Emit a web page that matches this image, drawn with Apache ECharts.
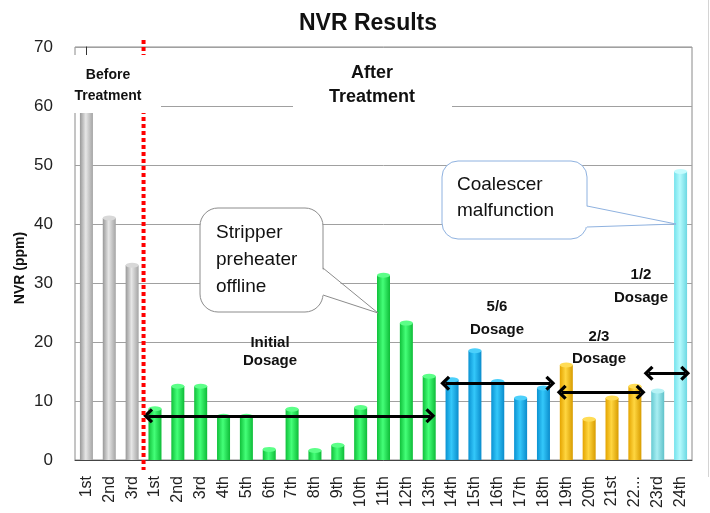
<!DOCTYPE html>
<html>
<head>
<meta charset="utf-8">
<script src="https://cdn.jsdelivr.net/npm/echarts@6/dist/echarts.min.js"></script>
<style>
html,body{margin:0;padding:0;background:#fff;}
#chart{width:710px;height:513px;}
</style>
</head>
<body>
<div id="chart"></div>
<script>
// ---- data ----
var categories = ['1st','2nd','3rd','1st','2nd','3rd','4th','5th','6th','7th','8th','9th','10th','11th','12th','13th','14th','15th','16th','17th','18th','19th','20th','21st','22...','23rd','24th'];
var values = [66, 41, 33, 8.7, 12.5, 12.5, 7.4, 7.4, 1.8, 8.6, 1.6, 2.5, 8.9, 31.3, 23.2, 14.2, 13.6, 18.5, 13.3, 10.5, 12.2, 16.1, 6.9, 10.5, 12.5, 11.7, 48.9];
var groups = ['before','before','before','initial','initial','initial','initial','initial','initial','initial','initial','initial','initial','initial','initial','initial','five6','five6','five6','five6','five6','two3','two3','two3','two3','half','half2'];
var yTicks = [0, 70, 10]; // min, max, interval
// double-headed arrows: [fromIndex, toIndex, value]
var arrowSpans = [[2.7, 15.05, 7.5], [15.7, 20.3, 13.0], [20.8, 24.25, 11.5], [24.6, 26.2, 14.7]];
var treatmentSplit = 2.5; // between "3rd" (before) and "1st" (after)

// ---- styles ----
function cyl(a, b, c) {
  return new echarts.graphic.LinearGradient(0, 0, 1, 0, [
    {offset: 0, color: a}, {offset: 0.45, color: b}, {offset: 1, color: c}
  ]);
}
var groupColors = {
  before: ['#989898', '#e6e6e6', '#a4a4a4'],
  initial: ['#10c03a', '#44ff78', '#0ebc38'],
  five6: ['#0a92d2', '#34c8fa', '#0a8ccc'],
  two3: ['#e4a400', '#ffd640', '#d89c00'],
  half: ['#66cad2', '#a8eef2', '#60c2ca'],
  half2: ['#74e2ec', '#b4fafd', '#6cd8e2']
};
var topColors = {before:'#d8d8d8', initial:'#5cff88', five6:'#4cd0fb', two3:'#ffdc55', half:'#b6f2f5', half2:'#c4fcfe'};

var barData = values.map(function (v, i) {
  var c = groupColors[groups[i]];
  return {value: v, itemStyle: {color: cyl(c[0], c[1], c[2])}};
});
var topData = values.map(function (v, i) {
  return {value: v, itemStyle: {color: topColors[groups[i]]}};
});
var arrowData = arrowSpans.map(function (s) {
  return [{coord: [s[0], s[2]]}, {coord: [s[1], s[2]]}];
});

var chevron = 'path://M10,0 L20,10 L17,13 L10,6 L3,13 L0,10 Z';
var FONT = '"Liberation Sans", Arial, sans-serif';

var chart = echarts.init(document.getElementById('chart'), null, {renderer: 'canvas'});
var staticGraphics = [
    // Before Treatment label box
    {id: 'bBox', type: 'rect', z: 50, shape: {x: 68, y: 55, width: 93, height: 58}, style: {fill: '#fff'}},
    {id: 'bTxt', type: 'text', z: 51, style: {text: 'Before\nTreatment', x: 108, y: 86, textAlign: 'center', textVerticalAlign: 'middle', font: 'bold 14px ' + FONT, lineHeight: 21, fill: '#111'}},
    // After Treatment label box
    {id: 'aBox', type: 'rect', z: 50, shape: {x: 293, y: 56, width: 159, height: 56}, style: {fill: '#fff'}},
    {id: 'aTxt', type: 'text', z: 51, style: {text: 'After\nTreatment', x: 372, y: 85, textAlign: 'center', textVerticalAlign: 'middle', font: 'bold 18px ' + FONT, lineHeight: 24, fill: '#111'}},
    // Dosage labels
    {id: 'd1', type: 'text', z: 51, style: {text: 'Initial\nDosage', x: 270, y: 352, textAlign: 'center', textVerticalAlign: 'middle', font: 'bold 15px ' + FONT, lineHeight: 18, fill: '#111'}},
    {id: 'd2', type: 'text', z: 51, style: {text: '5/6\nDosage', x: 497, y: 318, textAlign: 'center', textVerticalAlign: 'middle', font: 'bold 15px ' + FONT, lineHeight: 23, fill: '#111'}},
    {id: 'd3', type: 'text', z: 51, style: {text: '2/3\nDosage', x: 599, y: 348, textAlign: 'center', textVerticalAlign: 'middle', font: 'bold 15px ' + FONT, lineHeight: 22, fill: '#111'}},
    {id: 'd4', type: 'text', z: 51, style: {text: '1/2\nDosage', x: 641, y: 286, textAlign: 'center', textVerticalAlign: 'middle', font: 'bold 15px ' + FONT, lineHeight: 23, fill: '#111'}},
    // y-axis name
    {id: 'yn', type: 'text', z: 51, x: 20, y: 268, rotation: Math.PI / 2, style: {text: 'NVR (ppm)', x: 0, y: 0, textAlign: 'center', textVerticalAlign: 'middle', font: 'bold 14px ' + FONT, fill: '#111'}},
    // Stripper callout
    {id: 's1', type: 'rect', z: 60, shape: {x: 200, y: 208, width: 123, height: 104, r: 18}, style: {fill: '#fff', stroke: '#8c8c8c', lineWidth: 1}},
    {id: 's2', type: 'polygon', z: 61, shape: {points: [[321, 268], [378, 313], [321, 295]]}, style: {fill: '#fff'}},
    {id: 's3', type: 'polyline', z: 62, shape: {points: [[323, 268], [378, 313], [323, 295]]}, style: {stroke: '#8c8c8c', lineWidth: 1, fill: null}},
    {id: 's4', type: 'text', z: 63, style: {text: 'Stripper\npreheater\noffline', x: 216, y: 260, textAlign: 'left', textVerticalAlign: 'middle', font: '19px ' + FONT, lineHeight: 27, fill: '#111'}},
    // Coalescer callout
    {id: 'c1', type: 'rect', z: 60, shape: {x: 442, y: 161, width: 145, height: 78, r: 16}, style: {fill: '#fff', stroke: '#8fb2e0', lineWidth: 1}},
    {id: 'c2', type: 'polygon', z: 61, shape: {points: [[585, 206], [676, 224], [585, 227]]}, style: {fill: '#fff'}},
    {id: 'c3', type: 'polyline', z: 62, shape: {points: [[587, 206], [676, 224], [587, 227]]}, style: {stroke: '#8fb2e0', lineWidth: 1, fill: null}},
    {id: 'c4', type: 'text', z: 63, style: {text: 'Coalescer\nmalfunction', x: 457, y: 198, textAlign: 'left', textVerticalAlign: 'middle', font: '19px ' + FONT, lineHeight: 26, fill: '#111'}},
    // right frame line
    {id: 'fr', type: 'line', z: 1, shape: {x1: 708.5, y1: 0, x2: 708.5, y2: 477}, style: {stroke: '#d4d4d4', lineWidth: 1}}
];
var option = {
  animation: false,
  backgroundColor: '#ffffff',
  title: {
    text: 'NVR Results', left: 294, top: 7,
    textStyle: {fontFamily: FONT, fontSize: 23, fontWeight: 'bold', color: '#111'}
  },
  grid: {left: 75, right: 18, top: 47, bottom: 53, show: true, borderColor: '#8a8a8a', borderWidth: 1, backgroundColor: 'transparent'},
  xAxis: [{
    type: 'category', data: categories,
    axisLine: {lineStyle: {color: '#444', width: 1}},
    axisTick: {show: false},
    axisLabel: {rotate: 90, interval: 0, margin: 16, fontFamily: FONT, fontSize: 16, color: '#222'}
  }, {
    type: 'value', min: -0.5, max: categories.length - 0.5, show: false
  }],
  yAxis: {
    type: 'value', min: yTicks[0], max: yTicks[1], interval: yTicks[2],
    axisLine: {show: true, lineStyle: {color: '#333'}},
    axisTick: {show: false},
    axisLabel: {margin: 22, fontFamily: FONT, fontSize: 17, color: '#222', padding: [6, 0, 0, 0]},
    splitLine: {lineStyle: {color: '#a0a0a0', width: 1}}
  },
  series: [{
    type: 'bar', data: barData, barWidth: 13, barGap: '-100%', z: 2
  }, {
    type: 'pictorialBar', data: topData, symbol: 'circle', symbolSize: [13, 5],
    symbolPosition: 'end', symbolOffset: [0, '-50%'], barGap: '-100%', z: 3
  }, {
    type: 'scatter', xAxisIndex: 1, data: [], z: 7,
    markLine: {
      silent: true, symbol: [chevron, chevron], symbolSize: [15, 10], label: {show: false},
      lineStyle: {color: '#000', width: 3, type: 'solid'},
      data: arrowData, z: 8
    }
  }],
  graphic: staticGraphics
};
chart.setOption(option);

// red dotted divider between "Before" and "After" treatment, positioned through the x scale
var splitX = chart.convertToPixel({xAxisIndex: 1}, treatmentSplit);
var topY = chart.convertToPixel({yAxisIndex: 0}, yTicks[1]);
var botY = chart.convertToPixel({yAxisIndex: 0}, yTicks[0]);
chart.setOption({
  graphic: staticGraphics.concat([{
    id: 'redSplit', type: 'line', z: 40,
    shape: {x1: splitX, y1: topY - 7, x2: splitX, y2: botY + 10},
    style: {stroke: '#ff0000', lineWidth: 4, lineDash: [4, 3]}
  }])
});
</script>
</body>
</html>
